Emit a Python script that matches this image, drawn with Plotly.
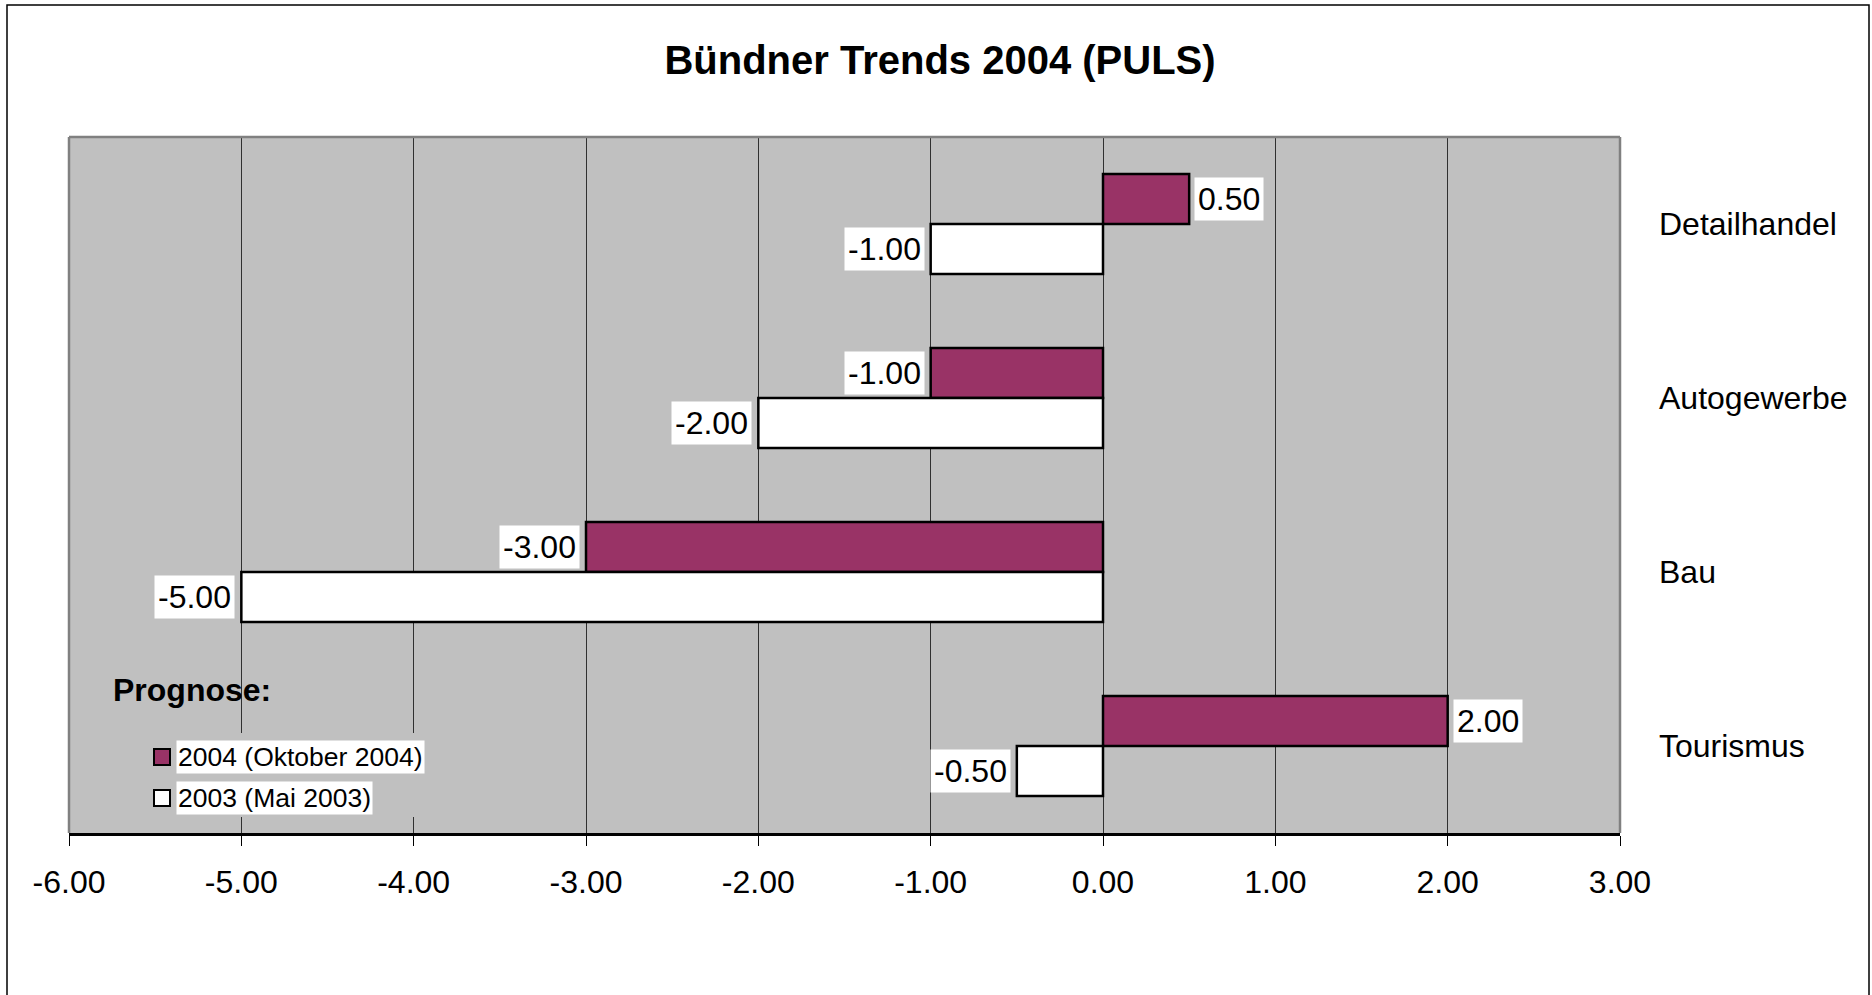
import plotly.graph_objects as go

categories = ["Detailhandel", "Autogewerbe", "Bau", "Tourismus"]
series_names = ["2004 (Oktober 2004)", "2003 (Mai 2003)"]
values_2004 = [0.50, -1.00, -3.00, 2.00]
values_2003 = [-1.00, -2.00, -5.00, -0.50]
x_ticks = [-6, -5, -4, -3, -2, -1, 0, 1, 2, 3]
x_ticktext = [f"{v:.2f}" for v in x_ticks]
colors = ["#993366", "#FFFFFF"]

FONT = "Arial, Liberation Sans, sans-serif"
W, H = 1872, 995
ML, MT = 69, 137
PW, PH = 1620 - 69, 833 - 137
MR, MB = W - ML - PW, H - MT - PH


def px2paper_x(px):
    return (px - ML) / PW


def px2paper_y(py):
    return (MT + PH - py) / PH


fig = go.Figure()
series = [values_2004, values_2003]
for name, vals, col in zip(series_names, series, colors):
    fig.add_trace(go.Bar(
        y=categories, x=vals, name=name, orientation="h",
        marker=dict(color=col, line=dict(color="black", width=2.5)),
        showlegend=False,
    ))

# data labels
annotations = []
for si, vals in enumerate(series):
    shift = 25 if si == 0 else -25
    for cat, v in zip(categories, vals):
        annotations.append(dict(
            x=v, y=cat, xref="x", yref="y", text=f"{v:.2f}", showarrow=False,
            xanchor="left" if v >= 0 else "right",
            xshift=5 if v >= 0 else -6, yshift=shift,
            bgcolor="white", borderpad=3,
            font=dict(family=FONT, size=32, color="black"),
        ))

# legend block (drawn manually to reproduce the look)
annotations.append(dict(
    x=px2paper_x(111), y=px2paper_y(690), xref="paper", yref="paper",
    text="<b>Prognose:</b>", showarrow=False, xanchor="left", yanchor="middle",
    font=dict(family=FONT, size=32, color="black"),
))
leg_y = [757, 798]
for name, yy in zip(series_names, leg_y):
    annotations.append(dict(
        x=px2paper_x(176), y=px2paper_y(yy), xref="paper", yref="paper",
        text=name, showarrow=False, xanchor="left", yanchor="middle",
        bgcolor="white", borderpad=1,
        font=dict(family=FONT, size=26.5, color="black"),
    ))

shapes = []
# gray legend box hiding gridlines
shapes.append(dict(type="rect", xref="paper", yref="paper",
                   x0=px2paper_x(140), x1=px2paper_x(440),
                   y0=px2paper_y(817), y1=px2paper_y(733),
                   fillcolor="#C0C0C0", line=dict(width=0), layer="above"))
for col, yy in zip(colors, leg_y):
    shapes.append(dict(type="rect", xref="paper", yref="paper",
                       x0=px2paper_x(154), x1=px2paper_x(170),
                       y0=px2paper_y(yy + 8), y1=px2paper_y(yy - 8),
                       fillcolor=col, line=dict(color="black", width=2), layer="above"))
# plot border (top, left, right) in gray
for (x0, y0, x1, y1) in [(0, 1, 1, 1), (0, 0, 0, 1), (1, 0, 1, 1)]:
    shapes.append(dict(type="line", xref="paper", yref="paper", x0=x0, y0=y0, x1=x1, y1=y1,
                       line=dict(color="#808080", width=2.5), layer="above"))
# outer chart border
shapes.append(dict(type="rect", xref="paper", yref="paper",
                   x0=px2paper_x(7), x1=px2paper_x(1869),
                   y0=px2paper_y(1010), y1=px2paper_y(5),
                   line=dict(color="black", width=1.5), fillcolor="rgba(0,0,0,0)", layer="below"))

fig.update_layout(
    width=W, height=H,
    margin=dict(l=ML, r=MR, t=MT, b=MB, autoexpand=False),
    paper_bgcolor="white", plot_bgcolor="#C0C0C0",
    barmode="group", bargap=0.425, bargroupgap=0,
    title=dict(text="<b>Bündner Trends 2004 (PULS)</b>", x=940 / W, xanchor="center",
               y=1 - 60 / H, yanchor="middle", xref="container", yref="container",
               font=dict(family=FONT, size=40, color="black")),
    xaxis=dict(range=[-6, 3], tickvals=x_ticks, ticktext=x_ticktext,
               showgrid=True, gridcolor="#303030", gridwidth=1, zeroline=False,
               showline=True, linecolor="black", linewidth=2.5,
               ticks="outside", ticklen=10, tickcolor="black", tickwidth=1,
               ticklabelstandoff=9,
               tickfont=dict(family=FONT, size=32, color="black")),
    yaxis=dict(categoryorder="array", categoryarray=categories, range=[3.5, -0.5],
               side="right", showgrid=False, zeroline=False, showline=False, ticks="",
               ticklabelstandoff=38,
               tickfont=dict(family=FONT, size=32, color="black")),
    yaxis2=dict(overlaying="y", anchor="free", position=6 / 9,
                side="left", range=[3.5, -0.5],
                tickvals=[-0.5, 0.5, 1.5, 2.5, 3.5], ticks="outside", ticklen=10,
                tickcolor="black", tickwidth=1.5, showticklabels=False,
                showgrid=False, zeroline=False, showline=False),
    annotations=annotations, shapes=shapes,
)

fig.write_html("out.html", config={"displayModeBar": False},
               post_script="document.body.style.margin='0';document.body.style.overflow='hidden';")
